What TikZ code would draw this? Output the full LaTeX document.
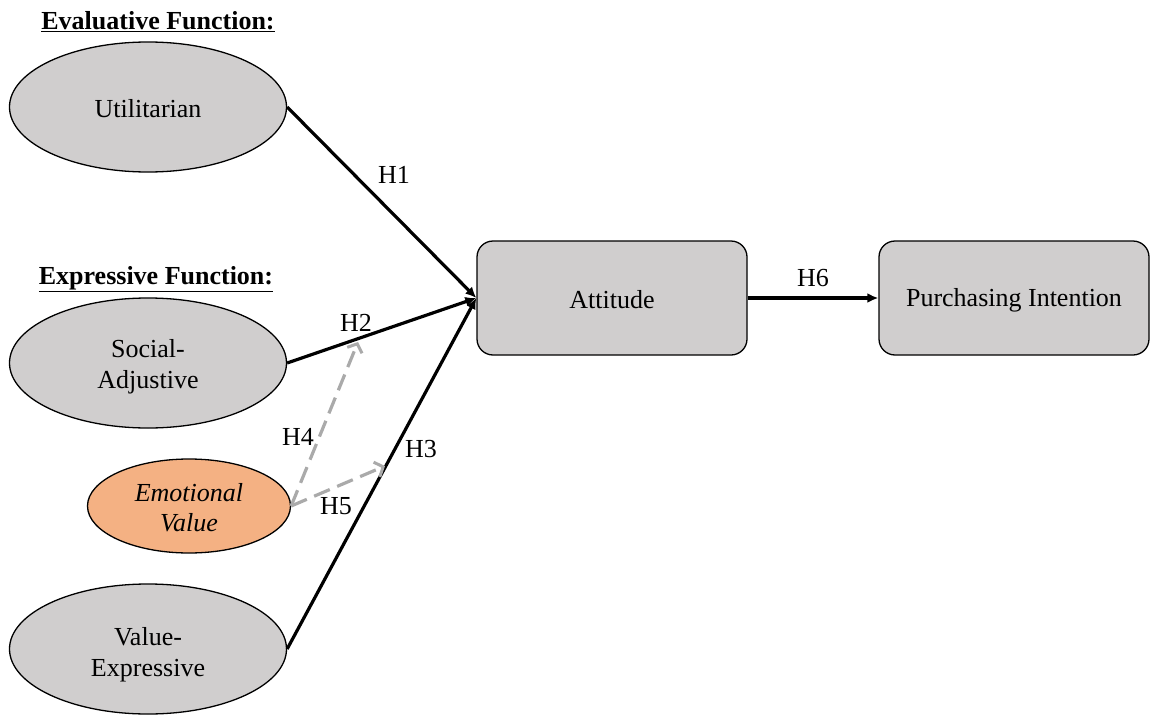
\documentclass[tikz,border=0pt]{standalone}
\usepackage{fontspec}
\setmainfont{Liberation Serif}
\usetikzlibrary{shapes.geometric,arrows.meta}
\definecolor{boxgray}{RGB}{208,206,206}
\definecolor{emoorange}{RGB}{244,177,131}
\definecolor{dashgray}{RGB}{170,170,170}
\newcommand{\lowr}[1]{\rule{0pt}{#1}}
\begin{document}
\begin{tikzpicture}[x=1pt,y=-1pt,
  every node/.style={font=\fontsize{26}{31}\selectfont},
  construct/.style={ellipse,draw=black,line width=1.3pt,fill=boxgray,inner sep=0pt,align=center,minimum width=277pt,minimum height=130pt},
  emo/.style={ellipse,draw=black,line width=1.3pt,fill=emoorange,inner sep=0pt,align=center,minimum width=203pt,minimum height=94pt,font=\fontsize{26}{30}\selectfont\itshape},
  outcome/.style={rectangle,rounded corners=16pt,draw=black,line width=1.3pt,fill=boxgray,minimum width=270pt,minimum height=114pt,inner sep=0pt},
  path/.style={draw=black,line width=3.2pt,-{Latex[length=11pt,width=10pt]}},
  modpath/.style={draw=dashgray,line width=3.2pt,dash pattern=on 17pt off 8pt,-{Straight Barb[length=7pt,width=16pt,line width=3pt]}},
  hdr/.style={font=\fontsize{26}{31}\selectfont\bfseries},
  lbl/.style={inner sep=0pt}
]
\useasboundingbox (0,0) rectangle (1152,715);
\node[hdr] (evalhdr) at (158,22) {\underline{Evaluative Function:}};
\node[hdr] (exprhdr) at (156,279) {\underline{Expressive Function:}};
\node[construct] (util) at (148,107) {\lowr{22pt}Utilitarian};
\node[construct] (social) at (148,363) {\lowr{26pt}Social-\\Adjustive};
\node[emo] (emo) at (189,506) {\lowr{22pt}Emotional\\Value};
\node[construct] (valexp) at (148,649) {\lowr{30pt}Value-\\Expressive};
\node[outcome] (att) at (612,298) {\lowr{22pt}Attitude};
\node[outcome] (pi) at (1014,298) {\lowr{22pt}Purchasing Intention};
\coordinate (h4end) at (358,342);
\coordinate (h5end) at (385,466);
\draw[path] (util.east) -- (att.west);
\draw[path] (social.east) -- (att.west);
\draw[path] (valexp.east) -- (att.west);
\draw[path] (att.east) -- (pi.west);
\draw[modpath] (emo.east) -- (h4end);
\draw[modpath] (emo.east) -- (h5end);
\node[lbl] (lh1) at (394,175) {H1};
\node[lbl] (lh2) at (356,323) {H2};
\node[lbl] (lh3) at (421,449) {H3};
\node[lbl] (lh4) at (298,437) {H4};
\node[lbl] (lh5) at (336,506) {H5};
\node[lbl] (lh6) at (813,278) {H6};
\end{tikzpicture}
\end{document}
